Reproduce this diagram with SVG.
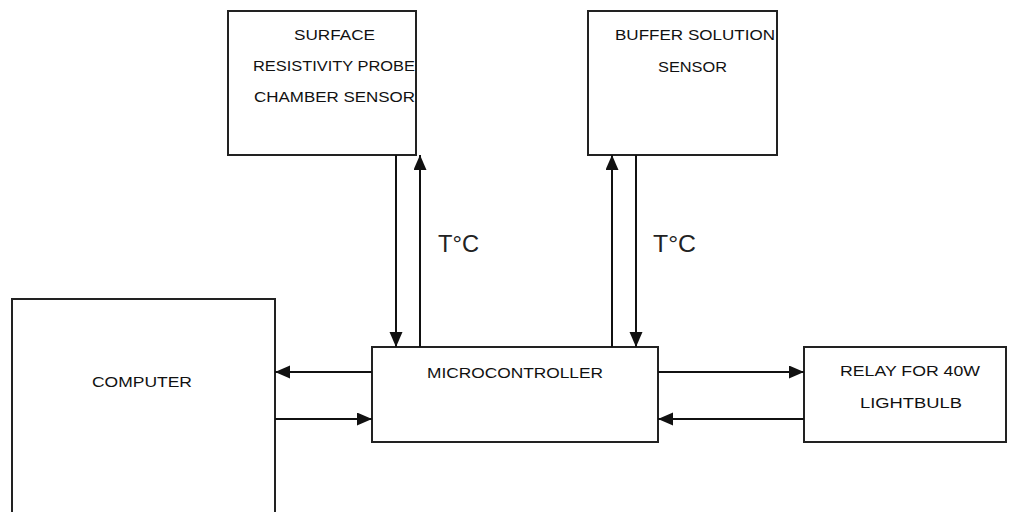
<svg xmlns="http://www.w3.org/2000/svg" width="1010" height="512" viewBox="0 0 1010 512">
<style>
.box{fill:#fff;stroke:#222;stroke-width:2}
.lbl{font-family:"Liberation Sans",Arial,sans-serif;font-size:15px;fill:#111;text-anchor:start}
.tc{font-family:"Liberation Sans",Arial,sans-serif;font-size:24px;fill:#222}
.conn line{stroke:#111;stroke-width:2;marker-end:url(#ah)}
</style>
<defs>
<marker id="ah" markerUnits="userSpaceOnUse" markerWidth="16" markerHeight="14" refX="15" refY="6.5" orient="auto">
<path d="M0,0 L15,6.5 L0,13 z" fill="#111"/>
</marker>
</defs>
<rect width="1010" height="512" fill="#fff"/>
<g id="surface">
<rect class="box" x="228" y="11" width="188" height="144"/>
<text class="lbl" x="294" y="40" textLength="81" lengthAdjust="spacingAndGlyphs">SURFACE</text>
<text class="lbl" x="253" y="71" textLength="162" lengthAdjust="spacingAndGlyphs">RESISTIVITY PROBE</text>
<text class="lbl" x="254" y="102" textLength="161" lengthAdjust="spacingAndGlyphs">CHAMBER SENSOR</text>
</g>
<g id="buffer">
<rect class="box" x="588" y="11" width="189" height="144"/>
<text class="lbl" x="615" y="40" textLength="160" lengthAdjust="spacingAndGlyphs">BUFFER SOLUTION</text>
<text class="lbl" x="658" y="72" textLength="69" lengthAdjust="spacingAndGlyphs">SENSOR</text>
</g>
<g id="computer">
<rect class="box" x="12" y="299" width="263" height="230"/>
<text class="lbl" x="92" y="387" textLength="100" lengthAdjust="spacingAndGlyphs">COMPUTER</text>
</g>
<g id="microcontroller">
<rect class="box" x="372" y="347" width="286" height="95"/>
<text class="lbl" x="427" y="378" textLength="176" lengthAdjust="spacingAndGlyphs">MICROCONTROLLER</text>
</g>
<g id="relay">
<rect class="box" x="804" y="347" width="202" height="95"/>
<text class="lbl" x="840" y="376" textLength="140" lengthAdjust="spacingAndGlyphs">RELAY FOR 40W</text>
<text class="lbl" x="860" y="408" textLength="102" lengthAdjust="spacingAndGlyphs">LIGHTBULB</text>
</g>
<g id="connectors" class="conn">
<line x1="396" y1="155" x2="396" y2="347"/>
<line x1="420" y1="347" x2="420" y2="155"/>
<line x1="612" y1="347" x2="612" y2="155"/>
<line x1="636" y1="155" x2="636" y2="347"/>
<line x1="372" y1="372" x2="275" y2="372"/>
<line x1="275" y1="419" x2="372" y2="419"/>
<line x1="658" y1="372" x2="804" y2="372"/>
<line x1="804" y1="419" x2="658" y2="419"/>
</g>
<g id="labels">
<text class="tc" x="438" y="252" textLength="41" lengthAdjust="spacingAndGlyphs">T°C</text>
<text class="tc" x="653" y="252" textLength="43" lengthAdjust="spacingAndGlyphs">T°C</text>
</g>
</svg>
